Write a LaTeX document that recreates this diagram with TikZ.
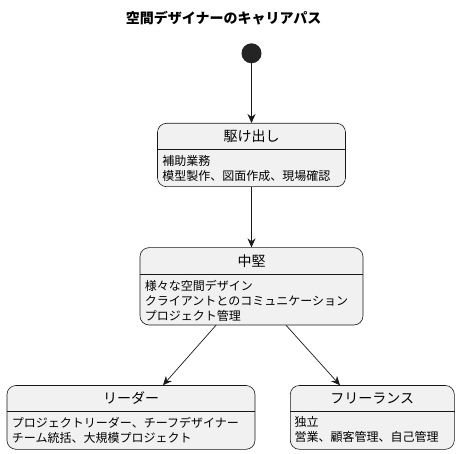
\documentclass[tikz,border=0pt]{standalone}
\usepackage{fontspec}
\setmainfont{Noto Sans CJK JP}
\usetikzlibrary{arrows.meta,positioning}

\definecolor{umlfill}{HTML}{F1F1F1}
\definecolor{umlline}{HTML}{181818}

\tikzset{
	state/.style={draw=umlline, fill=umlfill, line width=0.6pt,
		rounded corners=9pt, inner sep=0pt},
	statename/.style={inner sep=0pt, font=\fontsize{14}{16}\selectfont},
	statebody/.style={inner sep=0pt, anchor=north west, align=left,
		font=\fontsize{12}{15}\selectfont},
	trans/.style={-{Stealth[length=9pt,width=8pt,inset=3pt]},
		draw=umlline, line width=0.7pt}
}

\newcommand{\divider}[2]{%
	\draw[umlline, line width=0.6pt]
		([yshift=-#2]#1.north west) -- ([yshift=-#2]#1.north east);}

\begin{document}
\begin{tikzpicture}[x=1pt, y=-1pt]

	\useasboundingbox (0,0) rectangle (460,454);

	% title
	\node[font=\fontsize{14}{16}\selectfont\bfseries] (title) at (223.7,18.3)
		{空間デザイナーのキャリアパス};

	% start
	\node[circle, fill=umlline!95, minimum size=20pt, inner sep=0pt]
		(start) at (251.5,53.3) {};

	% novice
	\node[state, minimum width=188pt, minimum height=63.4pt]
		(novice) at (251.5,155) {};
	\divider{novice}{26pt}
	\node[statename] (novicename) at ([yshift=-13.5pt]novice.north) {駆け出し};
	\node[statebody] (novicebody) at ([xshift=5pt,yshift=-32pt]novice.north west)
		{補助業務\\模型製作、図面作成、現場確認};

	% mid
	\node[state, minimum width=223pt, minimum height=77.3pt]
		(mid) at (251.5,286.3) {};
	\divider{mid}{26.5pt}
	\node[statename] (midname) at ([yshift=-14pt]mid.north) {中堅};
	\node[statebody] (midbody) at ([xshift=5pt,yshift=-32.5pt]mid.north west)
		{様々な空間デザイン\\クライアントとのコミュニケーション\\プロジェクト管理};

	% leader
	\node[state, minimum width=248pt, minimum height=63.8pt]
		(leader) at (131,417.4) {};
	\divider{leader}{26.5pt}
	\node[statename] (leadername) at ([yshift=-13pt]leader.north) {リーダー};
	\node[statebody] (leaderbody) at ([xshift=5pt,yshift=-31.5pt]leader.north west)
		{プロジェクトリーダー、チーフデザイナー\\チーム統括、大規模プロジェクト};

	% freelance
	\node[state, minimum width=164pt, minimum height=63.8pt]
		(freelance) at (372.3,417.4) {};
	\divider{freelance}{26.5pt}
	\node[statename] (freelancename) at ([yshift=-13pt]freelance.north) {フリーランス};
	\node[statebody] (freelancebody) at ([xshift=4.5pt,yshift=-31.5pt]freelance.north west)
		{独立\\営業、顧客管理、自己管理};

	% transitions
	\draw[trans] (start) -- (novice);
	\draw[trans] (novice) -- (mid);
	\draw[trans] ([xshift=-35.5pt]mid.south) -- ([xshift=32pt]leader.north);
	\draw[trans] ([xshift=34.5pt]mid.south) -- ([xshift=-32.3pt]freelance.north);

\end{tikzpicture}
\end{document}
